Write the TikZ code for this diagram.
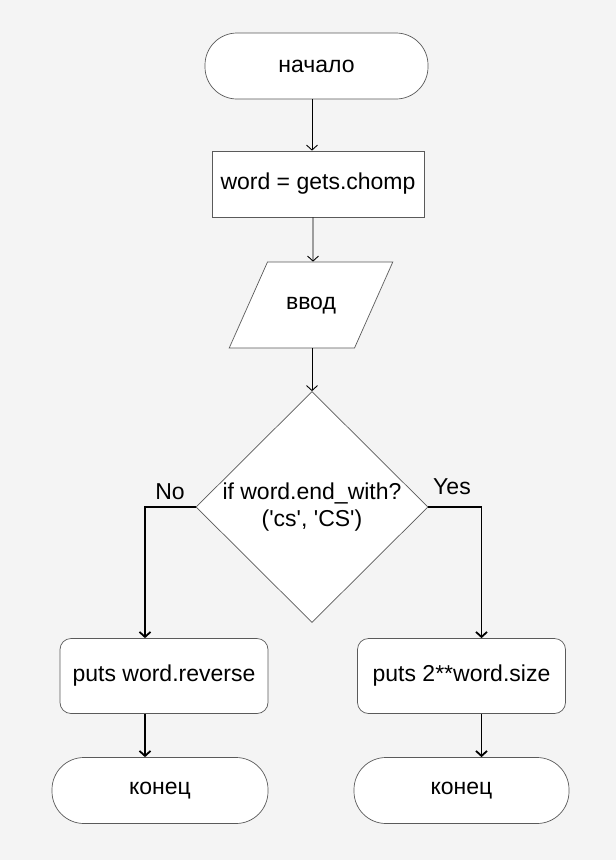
\documentclass[tikz,border=0pt]{standalone}
\usepackage{fontspec}
\setmainfont{Liberation Sans}
\usetikzlibrary{shapes.geometric,arrows.meta}
\definecolor{bg}{HTML}{F4F4F4}
\definecolor{edge}{HTML}{5A5A5A}
\begin{document}
\begin{tikzpicture}[x=1pt,y=-1pt,
    font=\fontsize{23}{27}\selectfont,
    >={Straight Barb[length=5pt,width=11pt]},
    box/.style={draw=edge,fill=white,line width=0.7pt,inner sep=0pt},
    term/.style={box,rectangle,rounded corners=32pt,minimum height=66pt},
    proc/.style={box,rectangle,minimum width=212pt,minimum height=66pt},
    outp/.style={box,rectangle,rounded corners=11pt,minimum width=208pt,minimum height=75pt},
    io/.style={box,trapezium,trapezium left angle=66,trapezium right angle=114,
        text width=50pt,align=center,text height=12pt,text depth=4pt,
        inner xsep=18.5pt,inner ysep=35pt},
    cond/.style={box,diamond,align=center,minimum width=232pt,minimum height=231pt},
    flow/.style={->,line width=0.9pt},
    branch/.style={->,line width=1.8pt}]
    \path[use as bounding box,fill=bg] (0,0) rectangle (616,860);
    % main column
    \node[term,minimum width=223pt] (start) at (316.5,66) {начало};
    \node[proc] (read) at (318,184) {word = gets.chomp};
    \node[io] (input) at (311,305) {ввод};
    \node[cond] (check) at (312,507) {if word.end\_with?\\(\textquotesingle cs\textquotesingle, \textquotesingle CS\textquotesingle)};
    % two outcomes
    \node[outp] (rev) at (164,676) {puts word.reverse};
    \node[outp] (pow) at (461.5,676) {puts 2**word.size};
    \node[term,minimum width=216pt] (stopl) at (160,790.5) {конец};
    \node[term,minimum width=215pt] (stopr) at (461.5,790.5) {конец};
    \node (no) at (170,492) {No};
    \node (yes) at (452,487) {Yes};
    \draw[flow] ([xshift=-4.5pt]start.south) -- ([xshift=-6pt]read.north);
    \draw[flow] ([xshift=-5pt]read.south) -- ([xshift=2pt]input.north);
    \draw[flow] (input.south -| check.north) -- (check.north);
    \draw[branch] (check.west) -| ([xshift=-19pt]rev.north);
    \draw[branch] (check.east) -| ([xshift=20pt]pow.north);
    \draw[branch] ([xshift=-19pt]rev.south) -- ([xshift=-15pt]stopl.north);
    \draw[branch] ([xshift=20pt]pow.south) -- ([xshift=20pt]stopr.north);
\end{tikzpicture}
\end{document}
